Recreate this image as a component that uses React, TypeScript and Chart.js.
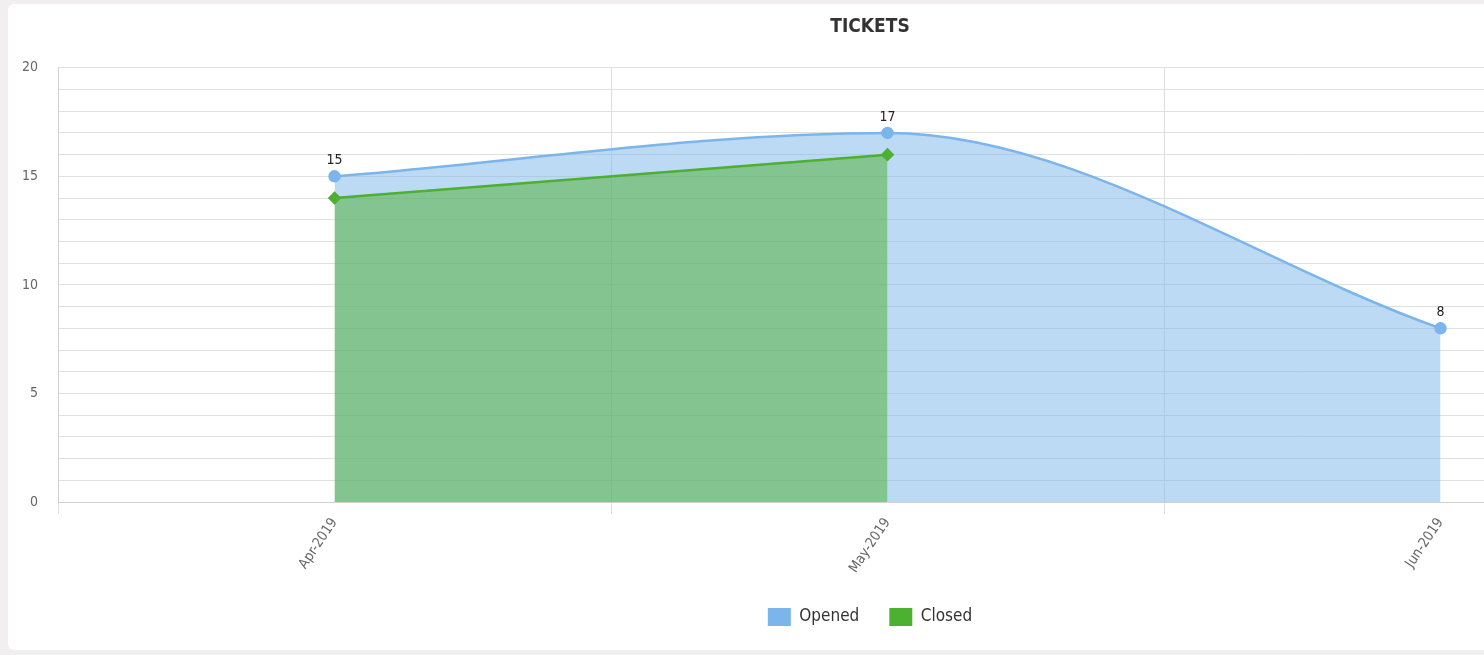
import React, { useEffect, useRef } from "react";
import { Chart, registerables } from "chart.js";

Chart.register(...registerables);

const categories = ["Apr-2019", "May-2019", "Jun-2019"];
const openedValues: (number | null)[] = [15, 17, 8];
const closedValues: (number | null)[] = [14, 16, null];
const seriesNames = ["Opened", "Closed"];
const chartTitle = "TICKETS";
const yMin = 0;
const yMax = 20;

const FONT = "'Liberation Sans Narrow', 'DejaVu Sans Condensed', Roboto, sans-serif";

const valueLabelPlugin = {
  id: "valueLabels",
  afterDatasetsDraw(chart: any) {
    const ctx = chart.ctx;
    const meta = chart.getDatasetMeta(0);
    const data = chart.data.datasets[0].data;
    ctx.save();
    ctx.font = `14px ${FONT}`;
    ctx.fillStyle = "#222";
    ctx.textAlign = "center";
    ctx.textBaseline = "middle";
    meta.data.forEach((pt: any, i: number) => {
      const v = data[i];
      if (v === null || v === undefined) return;
      ctx.fillText(String(v), pt.x, pt.y - 16);
    });
    ctx.restore();
  },
};

export default function App() {
  const ref = useRef<HTMLCanvasElement | null>(null);

  useEffect(() => {
    document.body.style.margin = "0";
    const canvas = ref.current!;
    const chart = new Chart(canvas, {
      type: "line",
      data: {
        labels: categories,
        datasets: [
          {
            label: seriesNames[0],
            data: openedValues,
            borderColor: "#7cb5ec",
            backgroundColor: "rgba(124,181,236,0.5)",
            pointBackgroundColor: "#7cb5ec",
            pointBorderColor: "#7cb5ec",
            pointRadius: 5,
            pointStyle: "circle",
            borderWidth: 2.5,
            fill: "origin",
            cubicInterpolationMode: "monotone",
            order: 1,
          },
          {
            label: seriesNames[1],
            data: closedValues,
            borderColor: "#4cb030",
            backgroundColor: "rgba(76,176,45,0.5)",
            pointBackgroundColor: "#4cb030",
            pointBorderColor: "#4cb030",
            pointRadius: 5,
            pointStyle: "rectRot",
            borderWidth: 2.5,
            fill: "origin",
            tension: 0,
            spanGaps: false,
            order: 0,
          },
        ],
      },
      options: {
        responsive: false,
        animation: false,
        layout: { padding: { top: 0, bottom: 14, left: 0, right: 0 } },
        plugins: {
          title: {
            display: true,
            text: chartTitle,
            color: "#333",
            font: { family: FONT, size: 19, weight: "bold" },
            padding: { top: 12, bottom: 29 },
          },
          legend: {
            position: "bottom",
            labels: {
              boxWidth: 23,
              boxHeight: 18,
              padding: 30,
              color: "#333",
              font: { family: FONT, size: 17 },
              sort: (a: any, b: any) => a.datasetIndex - b.datasetIndex,
              generateLabels: (ch: any) =>
                ch.data.datasets.map((ds: any, i: number) => ({
                  text: ds.label,
                  fillStyle: ds.borderColor,
                  strokeStyle: ds.borderColor,
                  lineWidth: 0,
                  hidden: false,
                  datasetIndex: i,
                  fontColor: "#333",
                })),
            },
          },
          tooltip: { enabled: false },
        },
        scales: {
          x: {
            type: "category",
            offset: true,
            grid: {
              offset: true,
              color: "#dedede",
              drawTicks: true,
              tickLength: 12,
            },
            border: { color: "#d0d0d0" },
            ticks: {
              color: "#666",
              font: { family: FONT, size: 14 },
              minRotation: 56,
              maxRotation: 56,
              padding: 1,
            },
            afterFit: (s: any) => {
              s.height = 76;
            },
          },
          y: {
            min: yMin,
            max: yMax,
            grid: { color: "#e0e0e0", drawTicks: false },
            border: { color: "#d0d0d0" },
            ticks: {
              stepSize: 1,
              color: "#666",
              font: { family: FONT, size: 14 },
              padding: 20,
              callback: (v: any) => (Number(v) % 5 === 0 ? String(v) : ""),
            },
            afterFit: (s: any) => {
              s.width = 50;
            },
          },
          spacer: {
            type: "linear",
            position: "right",
            display: true,
            grid: { display: false, drawTicks: false },
            border: { display: false },
            ticks: { display: false },
            afterFit: (s: any) => {
              s.width = 15;
            },
          },
        },
      },
      plugins: [valueLabelPlugin],
    } as any);
    return () => chart.destroy();
  }, []);

  return (
    <div
      style={{
        position: "fixed",
        left: 0,
        top: 0,
        width: 1484,
        height: 655,
        overflow: "hidden",
        background: "#f1eff0",
      }}
    >
      <div
        style={{
          position: "absolute",
          left: 8,
          top: 4,
          width: 1520,
          height: 646,
          background: "#ffffff",
          borderRadius: 6,
          overflow: "hidden",
        }}
      >
        <canvas
          ref={ref}
          width={1724}
          height={646}
          style={{ width: 1724, height: 646, display: "block" }}
        />
      </div>
    </div>
  );
}
